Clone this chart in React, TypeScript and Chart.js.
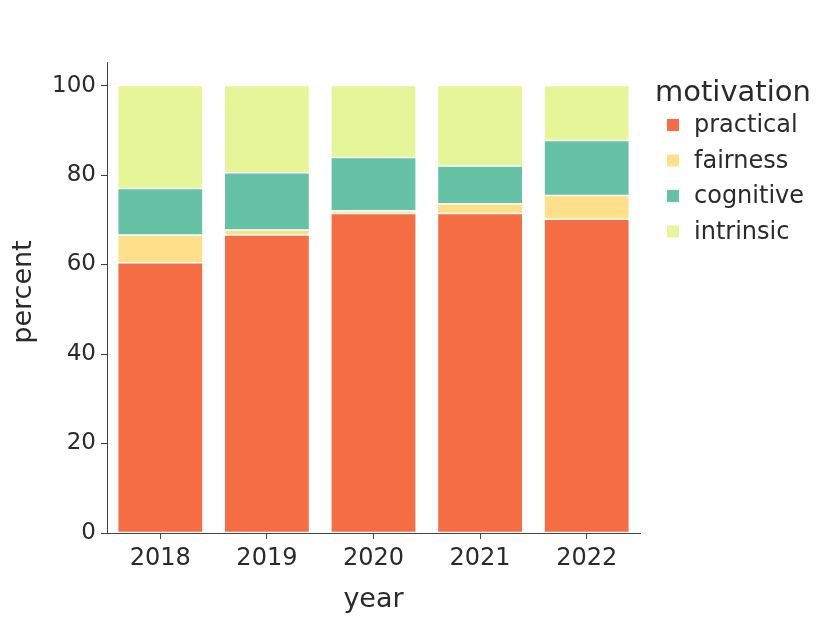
import React, { useEffect, useRef } from "react";
import { Chart, registerables } from "chart.js";

Chart.register(...registerables);

const years = ["2018", "2019", "2020", "2021", "2022"];
const practical = [60.4, 66.6, 71.4, 71.4, 70.1];
const fairness = [6.2, 1.1, 0.6, 2.2, 5.3];
const cognitive = [10.4, 12.8, 11.9, 8.4, 12.3];
const intrinsic = [23.0, 19.5, 16.1, 18.0, 12.3];
const yTicks = [0, 20, 40, 60, 80, 100];

const seriesNames = ["practical", "fairness", "cognitive", "intrinsic"];
const seriesColors = ["#f46d43", "#fee08b", "#66c2a5", "#e6f598"];
const FONT = "'DejaVu Sans', Verdana, sans-serif";
const TEXT = "#2a2a2a";
const AXIS = "#444444";

const overlayPlugin = {
  id: "overlay",
  afterDraw(chart: any) {
    const ctx = chart.ctx;
    const area = chart.chartArea;
    ctx.save();
    ctx.fillStyle = TEXT;
    // y axis title
    ctx.font = `27px ${FONT}`;
    ctx.textAlign = "center";
    ctx.textBaseline = "middle";
    ctx.save();
    ctx.translate(24, 292);
    ctx.rotate(-Math.PI / 2);
    ctx.fillText("percent", 0, 0);
    ctx.restore();
    // x axis title
    ctx.fillText("year", (area.left + area.right) / 2, 600);
    // legend
    const lx = area.right + 15;
    ctx.textAlign = "left";
    ctx.textBaseline = "alphabetic";
    ctx.font = `29px ${FONT}`;
    ctx.fillText("motivation", lx, 101);
    ctx.font = `24px ${FONT}`;
    ctx.textBaseline = "middle";
    seriesNames.forEach((name, i) => {
      const cy = 125 + i * 35.5;
      ctx.fillStyle = seriesColors[i];
      ctx.fillRect(lx + 12, cy - 6, 12, 12);
      ctx.fillStyle = TEXT;
      ctx.fillText(name, lx + 39, cy + 1);
    });
    ctx.restore();
  },
};

export default function App() {
  const ref = useRef<HTMLCanvasElement | null>(null);
  useEffect(() => {
    if (!ref.current) return;
    const values = [practical, fairness, cognitive, intrinsic];
    const chart = new Chart(ref.current, {
      type: "bar",
      data: {
        labels: years,
        datasets: seriesNames.map((name, i) => ({
          label: name,
          data: values[i],
          backgroundColor: seriesColors[i],
          borderColor: "rgba(255,255,255,0.9)",
          borderWidth: 0.75,
          borderSkipped: false,
          barPercentage: 0.8,
          categoryPercentage: 1,
        })),
      },
      options: {
        responsive: false,
        animation: false,
        devicePixelRatio: 1,
        layout: { padding: { top: 62, right: 190, left: 0, bottom: 0 } },
        plugins: {
          legend: { display: false },
          tooltip: { enabled: false },
        },
        scales: {
          x: {
            stacked: true,
            grid: {
              display: true,
              offset: false,
              drawOnChartArea: false,
              drawTicks: true,
              tickLength: 6,
              color: AXIS,
            },
            border: { display: true, color: AXIS, width: 1 },
            ticks: {
              color: TEXT,
              font: { family: FONT, size: 24 },
              padding: 5,
              maxRotation: 0,
            },
            afterFit(scale: any) {
              scale.height = 90;
            },
          },
          y: {
            stacked: true,
            min: 0,
            max: 105.26,
            grid: {
              display: true,
              drawOnChartArea: false,
              drawTicks: true,
              tickLength: 6,
              color: AXIS,
            },
            border: { display: true, color: AXIS, width: 1 },
            ticks: {
              color: TEXT,
              font: { family: FONT, size: 23 },
              padding: 5,
            },
            afterBuildTicks(scale: any) {
              scale.ticks = yTicks.map((v) => ({ value: v }));
            },
            afterFit(scale: any) {
              scale.width = 107;
            },
          },
        },
      },
      plugins: [overlayPlugin],
    });
    return () => chart.destroy();
  }, []);
  return (
    <div style={{ position: "absolute", left: 0, top: 0, width: 830, height: 623, background: "#fff" }}>
      <canvas ref={ref} width={830} height={623} />
    </div>
  );
}
